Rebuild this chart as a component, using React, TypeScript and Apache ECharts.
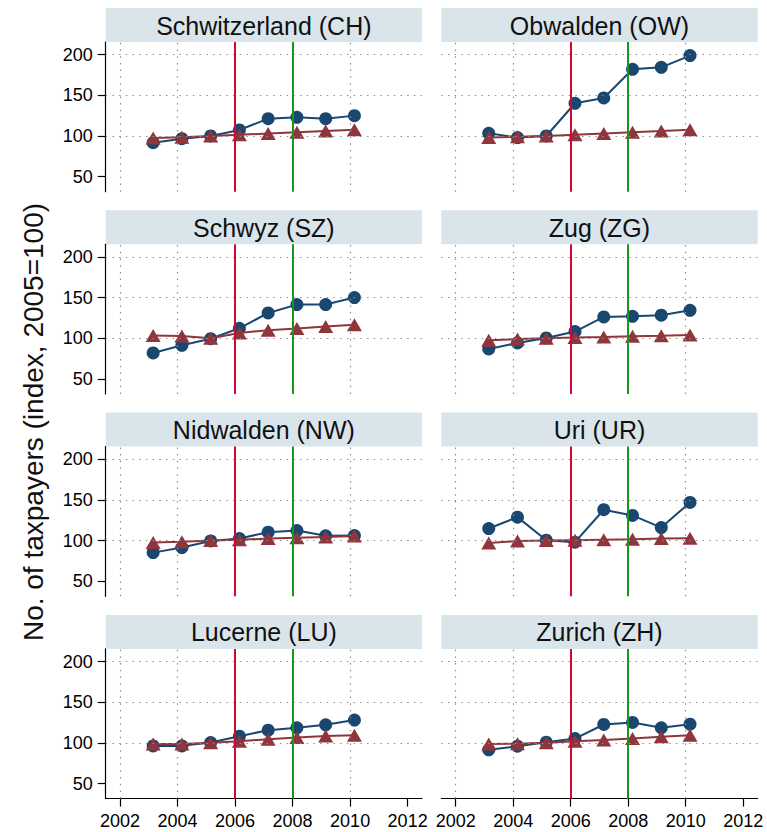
import React, { useEffect, useRef } from "react";
import * as echarts from "echarts";

// Observation dates (fractional years) shared by every canton panel
const years = [2003.15, 2004.15, 2005.15, 2006.15, 2007.15, 2008.15, 2009.15, 2010.15];

// Panel titles, in reading order (left-right, top-bottom)
const panelTitles = [
  "Schwitzerland (CH)",
  "Obwalden (OW)",
  "Schwyz (SZ)",
  "Zug (ZG)",
  "Nidwalden (NW)",
  "Uri (UR)",
  "Lucerne (LU)",
  "Zurich (ZH)",
];

// Index of taxpayers (2005 = 100), high-income group (navy circles)
const chHigh = [91.8, 96.7, 100, 107.4, 121.3, 123, 121.3, 125];
const owHigh = [103.3, 98, 100, 140.2, 146.7, 182, 184.4, 198.8];
const szHigh = [82, 91.4, 99.5, 112.3, 131.1, 141.4, 141.4, 150];
const zgHigh = [86.9, 94.3, 100.4, 108.2, 126.2, 127, 128.3, 134.4];
const nwHigh = [85.2, 91.4, 99.5, 102.5, 110.3, 112.3, 105.8, 106.2];
const urHigh = [114.8, 128.8, 100.4, 98, 137.9, 130.9, 116, 146.9];
const luHigh = [96.3, 96.3, 100.4, 108.2, 115.6, 118.5, 122.2, 128];
const zhHigh = [91.4, 95.9, 100.8, 105.3, 122.6, 125.1, 118.5, 123];

// Index of taxpayers (2005 = 100), all other taxpayers (maroon triangles)
const chOther = [97.5, 98.5, 100, 101.5, 103, 104.5, 106, 107.5];
const owOther = [98, 99, 100, 101.5, 103, 104.5, 106, 107.5];
const szOther = [103.3, 102.9, 100, 106.5, 110, 112, 114.5, 116.5];
const zgOther = [97.5, 99, 100, 101, 101.5, 102.5, 103, 104];
const nwOther = [97.5, 98.5, 100, 101, 102.5, 103.5, 104.5, 105.5];
const urOther = [97, 99.5, 100, 100.5, 101, 101.5, 102.5, 103];
const luOther = [98.5, 98.5, 100, 102, 104.5, 106.5, 108.5, 109.5];
const zhOther = [98.5, 99, 100, 102, 103.5, 105.5, 107.5, 109.5];

const highSeries = [chHigh, owHigh, szHigh, zgHigh, nwHigh, urHigh, luHigh, zhHigh];
const otherSeries = [chOther, owOther, szOther, zgOther, nwOther, urOther, luOther, zhOther];

// Axis ticks and reference lines
const xTicks = [2002, 2004, 2006, 2008, 2010, 2012];
const yTicks = [50, 100, 150, 200];
const xGrid = [2002, 2004, 2010];
const yGrid = [100, 150, 200];
const reformYear = 2006;
const crisisYear = 2008;

const FONT = "'Liberation Sans', Arial, Helvetica, sans-serif";
const NAVY = "#1a476f";
const MAROON = "#90353b";

export default function App() {
  const ref = useRef<HTMLDivElement>(null);

  useEffect(() => {
    if (!ref.current) return;
    const chart = echarts.init(ref.current, undefined, { renderer: "svg" });

    const colLeft = [105.7, 441.3];
    const plotW = 316.3;
    const rowTop = [42, 244.3, 446.6, 648.9];
    const plotH = 149.7;
    const stripH = 34;

    const grids: any[] = [];
    const xAxes: any[] = [];
    const yAxes: any[] = [];
    const series: any[] = [];
    const graphics: any[] = [];

    panelTitles.forEach((title, i) => {
      const col = i % 2;
      const row = Math.floor(i / 2);
      const isBottom = row === 3;
      const isLeft = col === 0;
      const left = colLeft[col];
      const top = rowTop[row];

      grids.push({ left, top, width: plotW, height: plotH, containLabel: false });

      xAxes.push({
        type: "value",
        gridIndex: i,
        min: 2001.5,
        max: 2012.5,
        axisLine: { show: isBottom, onZero: false, lineStyle: { color: "#000", width: 1.2 } },
        axisTick: {
          show: isBottom,
          customValues: xTicks,
          length: 8,
          lineStyle: { color: "#000", width: 1.2 },
        },
        axisLabel: {
          show: isBottom,
          customValues: xTicks,
          formatter: (v: number) => String(Math.round(v)),
          margin: 13,
          color: "#000",
          fontSize: 18,
          fontFamily: FONT,
        },
        splitLine: { show: false },
      });

      yAxes.push({
        type: "value",
        gridIndex: i,
        min: 31.5,
        max: 215.5,
        axisLine: { show: isLeft, onZero: false, lineStyle: { color: "#000", width: 1.2 } },
        axisTick: {
          show: isLeft,
          customValues: yTicks,
          length: 8,
          lineStyle: { color: "#000", width: 1.2 },
        },
        axisLabel: {
          show: isLeft,
          customValues: yTicks,
          formatter: (v: number) => String(Math.round(v)),
          margin: 13,
          color: "#000",
          fontSize: 18,
          fontFamily: FONT,
        },
        splitLine: { show: false },
      });

      // Dotted grid and the two vertical event lines
      const dotted = { color: "#8f8f8f", width: 1.2, type: [1.5, 5.2] };
      series.push({
        type: "line",
        xAxisIndex: i,
        yAxisIndex: i,
        data: [],
        silent: true,
        z: 1,
        markLine: {
          silent: true,
          symbol: "none",
          animation: false,
          label: { show: false },
          data: [
            ...yGrid.map((v) => ({ yAxis: v, lineStyle: dotted })),
            ...xGrid.map((v) => ({ xAxis: v, lineStyle: dotted })),
            { xAxis: reformYear, lineStyle: { color: "#cc0a34", width: 2, type: "solid" } },
            { xAxis: crisisYear, lineStyle: { color: "#16991a", width: 2, type: "solid" } },
          ],
        },
      });

      series.push({
        type: "line",
        xAxisIndex: i,
        yAxisIndex: i,
        data: years.map((y, k) => [y, highSeries[i][k]]),
        symbol: "circle",
        symbolSize: 13,
        lineStyle: { color: NAVY, width: 2 },
        itemStyle: { color: NAVY },
        z: 3,
      });

      series.push({
        type: "line",
        xAxisIndex: i,
        yAxisIndex: i,
        data: years.map((y, k) => [y, otherSeries[i][k]]),
        symbol: "triangle",
        symbolSize: [15, 13],
        lineStyle: { color: MAROON, width: 2 },
        itemStyle: { color: MAROON },
        z: 4,
      });

      // Panel title strip
      graphics.push({
        type: "rect",
        shape: { x: left, y: top - stripH, width: plotW, height: stripH },
        style: { fill: "#d9e5eb" },
        silent: true,
      });
      graphics.push({
        type: "text",
        x: left + plotW / 2,
        y: top - stripH / 2 + 0.5,
        style: {
          text: title,
          fill: "#111",
          font: `25px ${FONT}`,
          textAlign: "center",
          textVerticalAlign: "middle",
        },
        silent: true,
      });
    });

    graphics.push({
      type: "text",
      x: 33,
      y: 422,
      rotation: Math.PI / 2,
      style: {
        text: "No. of taxpayers (index, 2005=100)",
        fill: "#111",
        font: `28px ${FONT}`,
        textAlign: "center",
        textVerticalAlign: "middle",
      },
      silent: true,
    });

    chart.setOption({
      animation: false,
      backgroundColor: "#fff",
      grid: grids,
      xAxis: xAxes,
      yAxis: yAxes,
      series,
      graphic: graphics,
    });

    return () => chart.dispose();
  }, []);

  return (
    <div
      ref={ref}
      style={{ position: "absolute", left: 0, top: 0, width: 767, height: 832 }}
    />
  );
}
